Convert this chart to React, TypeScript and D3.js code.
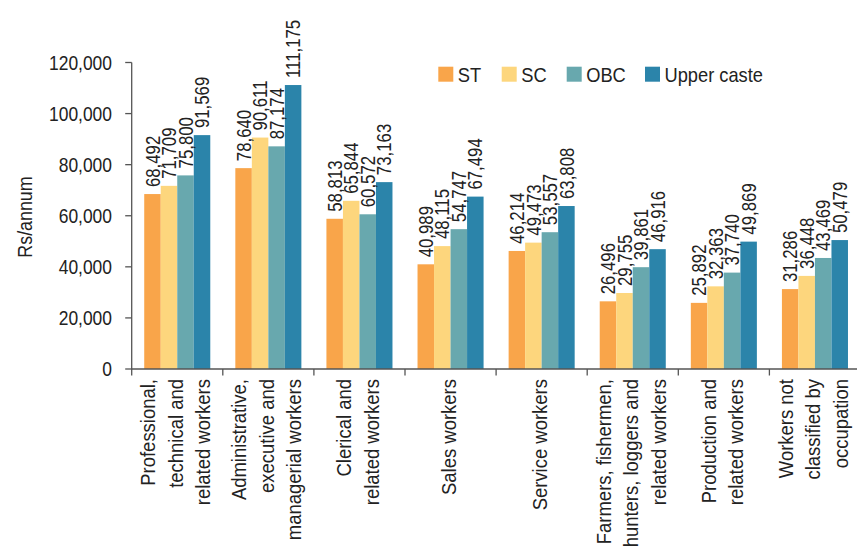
import React from "react";
import * as d3 from "d3";

// Occupation groups, each label split into its display lines
const categoryLines: string[][] = [
  ["Professional,", "technical and", "related workers"],
  ["Administrative,", "executive and", "managerial workers"],
  ["Clerical and", "related workers"],
  ["Sales workers"],
  ["Service workers"],
  ["Farmers, fishermen,", "hunters, loggers and", "related workers"],
  ["Production and", "related workers"],
  ["Workers not", "classified by", "occupation"],
];

const seriesNames = ["ST", "SC", "OBC", "Upper caste"];

// Annual earnings (Rs) per occupation group, one array per caste group
const stValues = [68492, 78640, 58813, 40989, 46214, 26496, 25892, 31286];
const scValues = [71709, 90611, 65844, 48115, 49473, 29755, 32363, 36448];
const obcValues = [75800, 87174, 60572, 54747, 53557, 39861, 37740, 43469];
const upperValues = [91569, 111175, 73163, 67494, 63808, 46916, 49869, 50479];

const yTicks = [0, 20000, 40000, 60000, 80000, 100000, 120000];

const seriesColors = ["#F9A54A", "#FDD67D", "#68A8AE", "#2B84AA"];

const W = 857;
const H = 549;
const FONT = "'Liberation Sans', Arial, sans-serif";
const TEXT = "#222";
const AXIS = "#555";

// Text drawn with a horizontal squeeze to give a condensed face
function NarrowText(props: {
  x: number;
  y: number;
  rotate?: number;
  sx: number;
  size: number;
  anchor: "start" | "middle" | "end";
  baseline?: string;
  children: React.ReactNode;
}) {
  const { x, y, rotate = 0, sx, size, anchor, baseline, children } = props;
  return (
    <text
      transform={`translate(${x},${y}) rotate(${rotate}) scale(${sx},1)`}
      textAnchor={anchor}
      dominantBaseline={baseline}
      fontSize={size}
      fill={TEXT}
    >
      {children}
    </text>
  );
}

export default function App() {
  const categories = categoryLines.map((l) => l.join(" "));
  const values = [stValues, scValues, obcValues, upperValues];

  const x0 = 131.7;
  const x1 = 860.5;
  const x = d3
    .scaleBand<string>()
    .domain(categories)
    .range([x0, x1])
    .paddingInner(0.275)
    .paddingOuter(0.1375);
  const xs = d3
    .scaleBand<string>()
    .domain(seriesNames)
    .range([0, x.bandwidth()])
    .padding(0);
  const y = d3.scaleLinear().domain([0, 120000]).range([369, 62.5]);
  const fmt = d3.format(",");
  const step = x.step();

  const lineGap = 27.5;

  return (
    <svg
      width={W}
      height={H}
      style={{ position: "absolute", left: 0, top: 0, background: "#fff" }}
      fontFamily={FONT}
    >
      {/* bars */}
      {categories.map((c, ci) => (
        <g key={c} transform={`translate(${x(c)},0)`}>
          {seriesNames.map((s, si) => {
            const v = values[si][ci];
            return (
              <rect
                key={s}
                x={xs(s)!}
                y={y(v)}
                width={xs.bandwidth()}
                height={y(0) - y(v)}
                fill={seriesColors[si]}
              />
            );
          })}
          {seriesNames.map((s, si) => {
            const v = values[si][ci];
            const cx = xs(s)! + xs.bandwidth() / 2;
            return (
              <NarrowText
                key={s}
                x={cx}
                y={y(v) - 7}
                rotate={-90}
                sx={0.8}
                size={21}
                anchor="start"
                baseline="central"
              >
                {fmt(v)}
              </NarrowText>
            );
          })}
        </g>
      ))}

      {/* y axis */}
      <line x1={x0} x2={x0} y1={y(120000)} y2={y(0)} stroke={AXIS} strokeWidth={1.3} />
      {yTicks.map((t) => (
        <g key={t}>
          <line x1={x0 - 6.5} x2={x0} y1={y(t)} y2={y(t)} stroke={AXIS} strokeWidth={1.3} />
          <NarrowText x={112} y={y(t)} sx={0.83} size={21} anchor="end" baseline="central">
            {fmt(t)}
          </NarrowText>
        </g>
      ))}

      {/* x axis */}
      <line x1={x0} x2={W} y1={y(0)} y2={y(0)} stroke={AXIS} strokeWidth={1.3} />
      {d3.range(categories.length + 1).map((i) => (
        <line
          key={i}
          x1={x0 + i * step}
          x2={x0 + i * step}
          y1={y(0)}
          y2={y(0) + 6.5}
          stroke={AXIS}
          strokeWidth={1.3}
        />
      ))}
      {categoryLines.map((lines, ci) => {
        const cx = x(categories[ci])! + x.bandwidth() / 2;
        return (
          <g key={ci}>
            {lines.map((ln, li) => (
              <NarrowText
                key={li}
                x={cx - 2 + (li - (lines.length - 1) / 2) * lineGap}
                y={379}
                rotate={-90}
                sx={0.88}
                size={21}
                anchor="end"
                baseline="central"
              >
                {ln}
              </NarrowText>
            ))}
          </g>
        );
      })}

      {/* axis title */}
      <NarrowText x={24} y={217} rotate={-90} sx={0.85} size={21} anchor="middle" baseline="central">
        Rs/annum
      </NarrowText>

      {/* legend */}
      {seriesNames.map((s, si) => {
        const lx = [438.3, 501.7, 566.7, 645][si];
        return (
          <g key={s} transform={`translate(${lx},66.7)`}>
            <rect width={15} height={15} fill={seriesColors[si]} />
            <NarrowText x={19.5} y={15.6} sx={0.87} size={21} anchor="start">
              {s}
            </NarrowText>
          </g>
        );
      })}
    </svg>
  );
}
